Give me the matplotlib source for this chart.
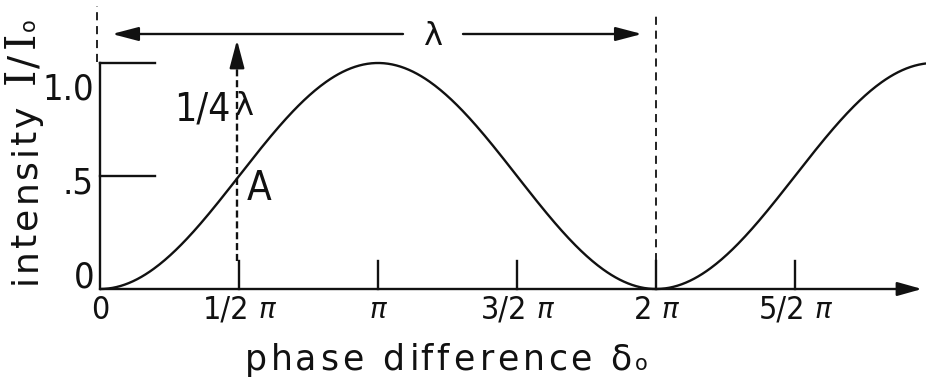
import os
import numpy as np
import matplotlib
matplotlib.use("Agg")
import matplotlib.pyplot as plt
from matplotlib import font_manager
from matplotlib.font_manager import FontProperties
from matplotlib.ft2font import FT2Font

plt.rcParams["font.family"] = ["DejaVu Sans"]

# Phase ticks (multiples of pi) and their labels
phase_ticks = [0.0, 0.5, 1.0, 1.5, 2.0, 2.5]
phase_labels = ["0", "1/2 \u03c0", "\u03c0", "3/2 \u03c0", "2 \u03c0", "5/2 \u03c0"]

# Intensity ticks and labels
intensity_ticks = [0.0, 0.5, 1.0]
intensity_labels = ["0", ".5", "1.0"]

# Phase range shown (multiples of pi)
phase_start, phase_end = 0.0, 2.97

# Two-beam interference: I/I0 = (1 - cos d) / 2
delta = np.linspace(phase_start, phase_end, 600) * np.pi
intensity = (1 - np.cos(delta)) / 2

# Marked point A at a quarter wavelength
point_a_phase = 0.5
point_a_intensity = 0.5


def _pick_narrow_font():
    """Find a narrow sans face for the numerals, else plain Liberation Sans."""
    files = {os.path.basename(f.fname): f.fname
             for f in font_manager.fontManager.ttflist}
    for name in ["LiberationSansNarrow-Regular.ttf", "DejaVuSansCondensed.ttf",
                 "NotoSans-Condensed.ttf", "NotoSans-CondensedRegular.ttf",
                 "RobotoCondensed-Regular.ttf", "Roboto-Condensed.ttf",
                 "OpenSans-CondensedRegular.ttf", "OpenSans_Condensed-Regular.ttf"]:
        if name in files:
            return files[name]
    return font_manager.findfont(FontProperties(family="Liberation Sans"))


NUM_PATH = _pick_narrow_font()
SANS_PATH = font_manager.findfont(FontProperties(family="DejaVu Sans"))
SERIF_PATH = font_manager.findfont(FontProperties(family="DejaVu Serif"))
OBL_PATH = font_manager.findfont(FontProperties(family="DejaVu Sans", style="oblique"))

W, H = 926, 384
DPI = 100
fig = plt.figure(figsize=(W / DPI, H / DPI), dpi=DPI)
ax = fig.add_axes([0, 0, 1, 1])

# drawing scale: 139 px per pi/2 along phase, 226 px per unit intensity
kx = (np.pi / 2) / 139.0
ky = 1.0 / 226.0
X0_PX, Y0_PX = 100, 289
ax.set_xlim(-X0_PX * kx, (W - X0_PX) * kx)
ax.set_ylim(-(H - Y0_PX) * ky, Y0_PX * ky)
ax.axis("off")

black = "#111111"
lw = 1.7


def px(x, y):
    """Pixel position (from top-left) to data coordinates."""
    return (x - X0_PX) * kx, (Y0_PX - y) * ky


def fp(path, size):
    return FontProperties(fname=path, size=size)


_ft_cache = {}


def _advance(ch, path, size):
    ft = _ft_cache.get(path)
    if ft is None:
        ft = FT2Font(path)
        _ft_cache[path] = ft
    ft.set_size(size, DPI)
    g = ft.load_char(ord(ch))
    return g.linearHoriAdvance / 65536.0, g.horiBearingX / 64.0


def text_width(s, path, size):
    return sum(_advance(c, path, size)[0] for c in s)


def spaced_text(pieces, cx, cy, length, rotation=0):
    """Draw letter-spaced text centred at pixel (cx, cy) on the baseline,
    stretched to `length` pixels.
    pieces: (text, font path, size, math font family or None)."""
    glyphs = []
    for text, path, size, mathfam in pieces:
        for ch in text:
            adv, lsb = _advance(ch, path, size)
            glyphs.append((ch, path, size, mathfam, adv, lsb))
    natural = sum(g[4] for g in glyphs)
    track = (length - natural) / max(len(glyphs) - 1, 1)
    pos = -length / 2.0
    for ch, path, size, mathfam, adv, lsb in glyphs:
        if ch != " ":
            a = pos + max(lsb, 0)
            x, y = (cx, cy - a) if rotation == 90 else (cx + a, cy)
            kw = dict(color=black, ha="left", va="baseline",
                      rotation=rotation, rotation_mode="anchor")
            if mathfam:
                ax.text(*px(x, y), "$\\mathrm{%s}$" % ch, fontsize=size,
                        math_fontfamily=mathfam, **kw)
            else:
                ax.text(*px(x, y), ch, fontproperties=fp(path, size), **kw)
        pos += adv + track


# curve
ax.plot(delta, intensity, color=black, lw=lw, solid_capstyle="round")

# vertical axis and horizontal ticks
ax.plot([0, 0], [0, 1.0], color=black, lw=lw)
for t in intensity_ticks[1:]:
    ax.plot([0, 55 * kx], [t, t], color=black, lw=lw)

# horizontal axis with arrow
ax.annotate("", xy=(822 * kx, 0), xytext=(0, 0),
            arrowprops=dict(arrowstyle="-|>,head_length=1.5,head_width=0.42",
                            mutation_scale=10, color=black, lw=lw,
                            shrinkA=0, shrinkB=0))

# phase ticks
tick_len = 28 * ky
for t in phase_ticks[1:]:
    ax.plot([t * np.pi, t * np.pi], [0, tick_len], color=black, lw=lw)

# phase tick labels: numeral part, then a raised pi
NUM_SIZE, PI_SIZE, PI_GAP = 23, 20, 9
y_num = (Y0_PX - 319) * ky
y_pi = (Y0_PX - 296) * ky
for t, lab in zip(phase_ticks, phase_labels):
    has_pi = lab.endswith("\u03c0")
    num = lab[:-1].strip() if has_pi else lab
    w_num = text_width(num, NUM_PATH, NUM_SIZE) if num else 0.0
    w_pi = text_width("\u03c0", OBL_PATH, PI_SIZE) if has_pi else 0.0
    gap = PI_GAP if (num and has_pi) else 0.0
    left = t * np.pi - (w_num + gap + w_pi) / 2 * kx
    if num:
        ax.text(left, y_num, num, ha="left", va="baseline",
                fontproperties=fp(NUM_PATH, NUM_SIZE), color=black)
    if has_pi:
        ax.text(left + (w_num + gap) * kx, y_pi, "\u03c0", ha="left",
                va="top", fontproperties=fp(OBL_PATH, PI_SIZE), color=black)

# intensity tick labels (baseline offsets in px from the tick)
label_offsets = [2, -17, -37]
for t, lab, off in zip(intensity_ticks, intensity_labels, label_offsets):
    ax.text(-6 * kx, t + off * ky, lab, ha="right", va="baseline",
            fontproperties=fp(NUM_PATH, 26), color=black)

# dashed verticals at 0 and 2 pi
ax.plot([-3 * kx, -3 * kx], [1.0 + 1 * ky, (289 - 6) * ky], color=black,
        lw=1.3, dashes=(4.5, 3.2))
ax.plot([2 * np.pi, 2 * np.pi], [0, (289 - 12) * ky], color=black,
        lw=1.3, dashes=(4.5, 3.2))

# wavelength arrow
y_arrow = (289 - 34) * ky
ax.annotate("", xy=(12 * kx, y_arrow), xytext=(303 * kx, y_arrow),
            arrowprops=dict(arrowstyle="-|>,head_length=1.6,head_width=0.42",
                            mutation_scale=10, color=black, lw=lw,
                            shrinkA=0, shrinkB=0))
ax.annotate("", xy=(542 * kx, y_arrow), xytext=(363 * kx, y_arrow),
            arrowprops=dict(arrowstyle="-|>,head_length=1.6,head_width=0.42",
                            mutation_scale=10, color=black, lw=lw,
                            shrinkA=0, shrinkB=0))
ax.text(*px(433, 45), "\u03bb", ha="center", va="baseline",
        fontproperties=fp(SANS_PATH, 23), color=black)

# quarter-wave dotted arrow
xq = point_a_phase * np.pi - 2 * kx
y_tip = (289 - 40) * ky
ax.plot([xq, xq], [tick_len, y_tip - 12 * ky], color=black, lw=1.7,
        dashes=(3.0, 1.6))
ax.annotate("", xy=(xq, y_tip), xytext=(xq, y_tip - 14 * ky),
            arrowprops=dict(arrowstyle="-|>,head_length=1.7,head_width=0.45",
                            mutation_scale=10, color=black, lw=lw,
                            shrinkA=0, shrinkB=0))
ax.text(*px(231, 120), "1/4", ha="right", va="baseline",
        fontproperties=fp(NUM_PATH, 28), color=black)
ax.text(*px(235, 115), "\u03bb", ha="left", va="baseline",
        fontproperties=fp(SANS_PATH, 23), color=black)
ax.text(xq + 10 * kx, point_a_intensity - (200 - 176) * ky, "A", ha="left",
        va="baseline", fontproperties=fp(NUM_PATH, 29), color=black)

# axis titles
spaced_text([("phase difference \u03b4", SANS_PATH, 25, None),
             ("o", SANS_PATH, 15, None)],
            cx=444, cy=370, length=405)
spaced_text([("intensity ", SANS_PATH, 26, None),
             ("I", SERIF_PATH, 30, "dejavuserif"),
             ("/", SANS_PATH, 28, "dejavusans"),
             ("I", SERIF_PATH, 30, "dejavuserif"),
             ("o", SANS_PATH, 15, "dejavusans")],
            cx=36, cy=154, length=266, rotation=90)

fig.savefig("out.png", dpi=DPI, facecolor="white")
